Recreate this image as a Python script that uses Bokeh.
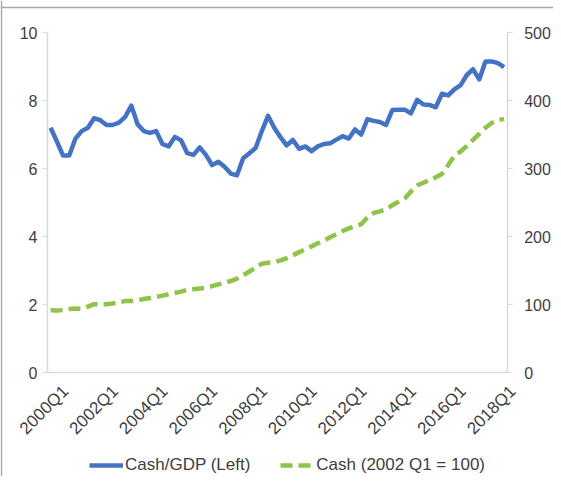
import math
from bokeh.plotting import figure
from bokeh.models import Range1d, LinearAxis, FixedTicker, Legend, LegendItem, ColumnDataSource, Span
from bokeh.embed import file_html
from bokeh.resources import INLINE

# ---- data (quarterly, 2000Q1 .. 2018Q2) ----
quarters = [f"{y}Q{q}" for y in range(2000, 2019) for q in range(1, 5)][:74]

cash_gdp = [7.20, 6.80, 6.38, 6.38, 6.88, 7.10, 7.20, 7.48, 7.42, 7.28,
            7.28, 7.35, 7.52, 7.85, 7.30, 7.10, 7.05, 7.10, 6.72, 6.65,
            6.93, 6.83, 6.45, 6.40, 6.62, 6.40, 6.10, 6.20, 6.05, 5.85,
            5.80, 6.30, 6.45, 6.60, 7.10, 7.55, 7.20, 6.92, 6.68, 6.84,
            6.58, 6.65, 6.51, 6.65, 6.72, 6.74, 6.85, 6.95, 6.88, 7.15,
            7.00, 7.45, 7.40, 7.37, 7.28, 7.72, 7.73, 7.73, 7.62, 8.02,
            7.88, 7.87, 7.80, 8.20, 8.15, 8.33, 8.45, 8.75, 8.92, 8.62,
            9.15, 9.15, 9.10, 8.98]

cash_index = [91.5, 91.0, 92.0, 93.5, 94.0, 93.5, 97.0, 100.5, 100.0, 100.5,
              101.5, 103.5, 105.0, 105.0, 106.0, 108.0, 109.5, 111.0, 113.0, 115.0,
              117.0, 119.0, 121.5, 122.5, 123.5, 124.5, 127.0, 129.5, 132.0, 134.5,
              138.0, 143.0, 148.5, 154.0, 160.0, 161.5, 162.0, 165.0, 168.0, 172.5,
              177.0, 181.0, 185.5, 190.0, 194.0, 199.0, 203.5, 208.0, 212.0, 215.0,
              218.0, 228.0, 234.5, 237.0, 240.0, 246.0, 251.0, 256.0, 266.0, 275.0,
              279.0, 283.0, 287.0, 292.0, 305.0, 319.0, 325.0, 333.0, 342.0, 351.0,
              360.0, 367.0, 371.0, 373.0]

left_ticks = [0, 2, 4, 6, 8, 10]
right_ticks = [0, 100, 200, 300, 400, 500]
x_tick_labels = ["2000Q1", "2002Q1", "2004Q1", "2006Q1", "2008Q1",
                 "2010Q1", "2012Q1", "2014Q1", "2016Q1", "2018Q1"]

series_names = ["Cash/GDP (Left)", "Cash (2002 Q1 = 100)"]

# ---- layout constants (pixels) ----
FONT = "Liberation Sans"
TXT = "#404040"
AXC = "#d9d9d9"
W, H = 553, 476
PLOT_L, PLOT_R, PLOT_T = 47, 506.7, 32   # left axis, right axis, value 10
ZERO_Y = 372                               # pixel row of value 0
BORDER_X, BORDER_Y = 1, 7                  # outer chart box lines

n = len(quarters)
w = (PLOT_R - PLOT_L) / n                  # px per category
ppu = (ZERO_Y - PLOT_T) / 10.0             # px per left-axis unit

x0 = -0.5 - PLOT_L / w
x1 = n - 0.5 + (W - PLOT_R) / w
y0 = -(H - ZERO_Y) / ppu
y1 = 10 + PLOT_T / ppu

p = figure(width=W, height=H, output_backend="svg", toolbar_location=None,
           x_range=Range1d(x0, x1), y_range=Range1d(y0, y1),
           x_axis_location=None, y_axis_location=None,
           min_border_left=0, min_border_right=0, min_border_top=0, min_border_bottom=0)
p.outline_line_color = None
p.xgrid.visible = False
p.ygrid.visible = False
p.background_fill_color = "white"
p.border_fill_color = "white"
p.extra_y_ranges = {"right": Range1d(y0 * 50, y1 * 50)}
label_shift = 2.4
p.extra_x_ranges = {"lab": Range1d(x0 - label_shift, x1 - label_shift)}

# outer chart box (top and left edges visible)
p.add_layout(Span(location=10 + (PLOT_T - BORDER_Y) / ppu, dimension="width",
                  line_color="#a6a6a6", line_width=1.5))
p.add_layout(Span(location=-0.5 - (PLOT_L - BORDER_X) / w, dimension="height",
                  line_color="#a6a6a6", line_width=1.5))

src = ColumnDataSource(dict(x=list(range(n)), gdp=cash_gdp, idx=cash_index))

r_green = p.line("x", "idx", source=src, y_range_name="right", line_color="#8DC449",
                 line_width=4.5, line_dash="12 6")
r_blue = p.line("x", "gdp", source=src, line_color="#4472C4", line_width=4.5,
                line_join="round")

# x axis line at value 0
xline = LinearAxis(ticker=FixedTicker(ticks=[]), fixed_location=0, bounds=(-0.5, n - 0.5))
xline.axis_line_color = AXC
xline.axis_line_width = 1.5
xline.major_tick_line_color = None
xline.minor_tick_line_color = None
p.add_layout(xline, "below")

# x axis labels (rotated 45 deg)
tick_pos = [quarters.index(t) for t in x_tick_labels]
xlab = LinearAxis(x_range_name="lab", ticker=FixedTicker(ticks=tick_pos),
                  fixed_location=0, bounds=(-10, n + 10))
xlab.major_label_overrides = {i: quarters[i] for i in tick_pos}
xlab.major_label_orientation = math.pi / 4
xlab.axis_line_color = None
xlab.major_tick_line_color = None
xlab.minor_tick_line_color = None
xlab.major_label_text_font = FONT
xlab.major_label_text_font_size = "17px"
xlab.major_label_text_color = TXT
xlab.major_label_standoff = 10
p.add_layout(xlab, "below")

# left axis
ya = LinearAxis(ticker=FixedTicker(ticks=left_ticks), fixed_location=-0.5, bounds=(0, 10))
ya.axis_line_color = AXC
ya.axis_line_width = 1.5
ya.major_tick_line_color = AXC
ya.major_tick_out = 5
ya.major_tick_in = 0
ya.minor_tick_line_color = None
ya.major_label_text_font = FONT
ya.major_label_text_font_size = "16px"
ya.major_label_text_color = TXT
ya.major_label_standoff = 5
p.add_layout(ya, "left")

# right axis
ra = LinearAxis(y_range_name="right", ticker=FixedTicker(ticks=right_ticks),
                fixed_location=n - 0.5, bounds=(0, 500))
ra.axis_line_color = AXC
ra.axis_line_width = 1.5
ra.major_tick_line_color = AXC
ra.major_tick_out = 5
ra.major_tick_in = 0
ra.minor_tick_line_color = None
ra.major_label_text_font = FONT
ra.major_label_text_font_size = "16px"
ra.major_label_text_color = TXT
ra.major_label_standoff = 12
p.add_layout(ra, "right")

legend = Legend(items=[LegendItem(label=series_names[0], renderers=[r_blue]),
                       LegendItem(label=series_names[1], renderers=[r_green])],
                orientation="horizontal", location=(89, 1))
legend.padding = 0
legend.margin = 0
legend.spacing = 30
legend.label_standoff = 2
legend.glyph_width = 34
legend.glyph_height = 20
legend.label_height = 20
legend.label_text_font = FONT
legend.label_text_font_size = "17px"
legend.label_text_color = TXT
legend.border_line_color = None
legend.background_fill_alpha = 0
p.add_layout(legend, "center")

open("out.html", "w").write(file_html(p, INLINE))
